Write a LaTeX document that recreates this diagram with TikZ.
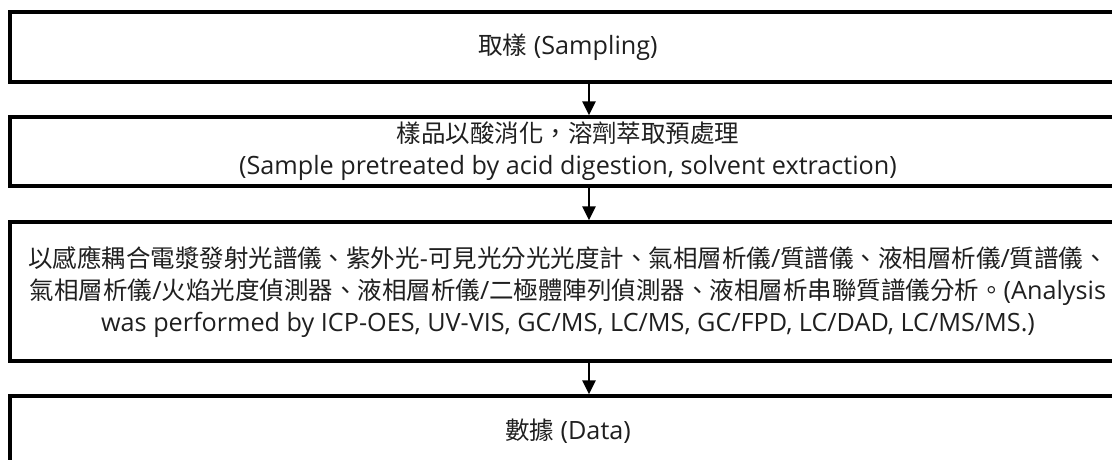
\documentclass[tikz,border=0pt]{standalone}
\usepackage{fontspec}
\setmainfont{Open Sans}
\newfontfamily\cjk[Scale=0.972]{Noto Sans CJK TC}
\usetikzlibrary{arrows.meta}
\begin{document}
\begin{tikzpicture}[x=1pt,y=-1pt,
  box/.style={draw, line width=3.2pt, align=center, inner sep=0pt,
    font=\fontsize{25.2}{32}\selectfont, text=black!88},
  arr/.style={line width=2.6pt, -{Triangle[length=14pt,width=13pt]}}]
\useasboundingbox (0,0) rectangle (1112,460);
\clip (0,0) rectangle (1112,460);
\node[box, minimum width=1116pt, minimum height=70pt] (s1) at (568,47)
  {{\cjk 取樣} (Sampling)};
\node[box, minimum width=1116pt, minimum height=69pt] (s2) at (568,151.5)
  {{\cjk 樣品以酸消化，溶劑萃取預處理}\\(Sample pretreated by acid digestion, solvent extraction)};
\node[box, minimum width=1116pt, minimum height=139pt] (s3) at (568,291.5)
  {{\cjk 以感應耦合電漿發射光譜儀、紫外光}-{\cjk 可見光分光光度計、氣相層析儀}/{\cjk 質譜儀、液相層析儀}/{\cjk 質譜儀、}\\
   {\cjk 氣相層析儀}/{\cjk 火焰光度偵測器、液相層析儀}/{\cjk 二極體陣列偵測器、液相層析串聯質譜儀分析。}(Analysis\\
   was performed by ICP-OES, UV-VIS, GC/MS, LC/MS, GC/FPD, LC/DAD, LC/MS/MS.)};
\node[box, minimum width=1116pt, minimum height=70pt] (s4) at (568,431)
  {{\cjk 數據} (Data)};
\coordinate (ax) at (589,0);
\draw[arr] (s1.south -| ax) -- (s2.north -| ax);
\draw[arr] (s2.south -| ax) -- (s3.north -| ax);
\draw[arr] (s3.south -| ax) -- (s4.north -| ax);
\end{tikzpicture}
\end{document}
